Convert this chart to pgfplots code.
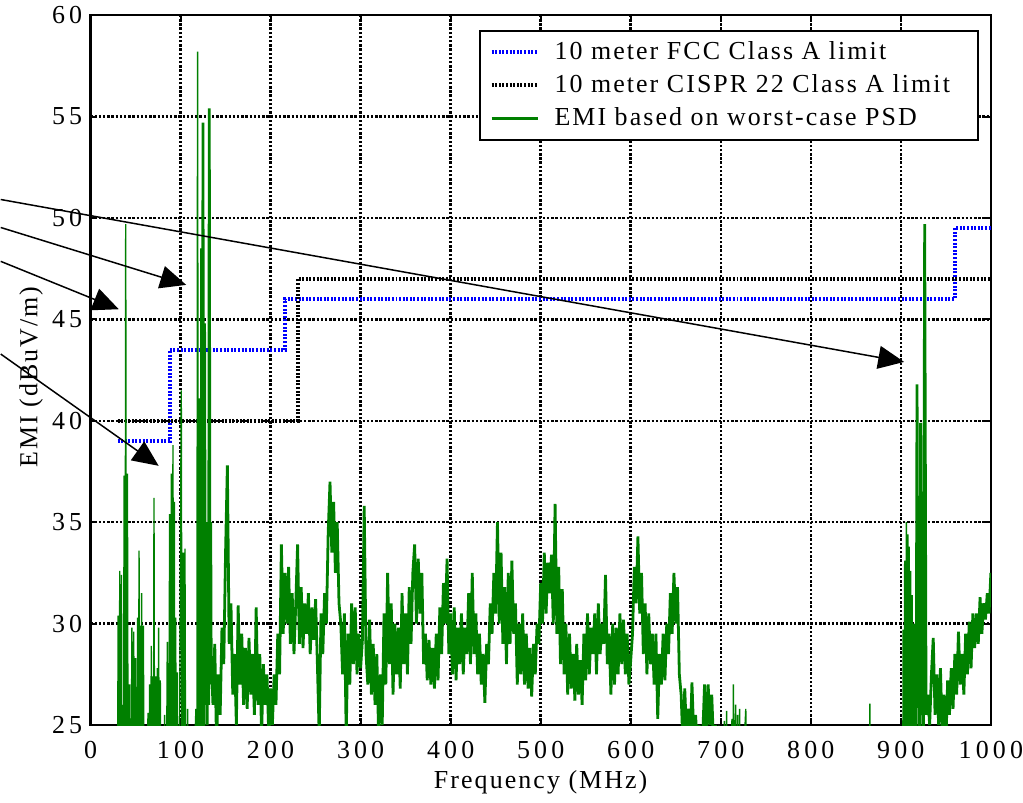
\documentclass[border=0pt]{standalone}
\usepackage{fontspec}
\setmainfont[LetterSpace=8]{Liberation Serif}
\newfontfamily\tickfont[LetterSpace=16]{Liberation Serif}
\usepackage{pgfplots}
\pgfplotsset{compat=1.18}
\usetikzlibrary{arrows.meta}
\definecolor{emigreen}{RGB}{0,128,0}
\definecolor{fccblue}{RGB}{0,0,255}
\begin{document}
\fontsize{13}{15.5}\selectfont
\begin{tikzpicture}
\begin{axis}[
  scale only axis, width=451.5pt, height=356pt,
  xmin=0, xmax=1000, ymin=25, ymax=60,
  xtick={0,100,...,1000}, ytick={25,30,...,60},
  grid=major,
  major grid style={black, line width=1.25pt, dash pattern=on 1.2pt off 0.9pt},
  axis line style={black, line width=1.3pt},
  tick style={black, line width=1pt},
  tick align=inside, major tick length=3pt,
  /pgf/number format/assume math mode=true,
  /pgf/number format/1000 sep={},
  tick label style={font=\tickfont},
  xticklabel style={anchor=base, yshift=-16.8pt, inner xsep=0pt},
  yticklabel style={inner ysep=3.2pt, inner xsep=4pt},
  xlabel={Frequency (MHz)}, ylabel={EMI (dBuV/m)},
  xlabel style={at={(axis description cs:0.5,-0.0889)}, anchor=base},
  ylabel style={at={(axis description cs:-0.059,0.49)}, anchor=base},
  clip mode=individual,
  legend cell align=left,
  legend image code/.code={\draw[#1] (0pt,0pt) -- (23pt,0pt);},
  legend style={at={(axis description cs:0.9867,0.9797)}, anchor=north east,
    draw=black, line width=1pt, fill=white, inner xsep=5pt, inner ysep=3.3pt,
    row sep=1.6pt, column sep=5.5pt, nodes={inner sep=2pt}},
]
\addplot[fccblue, line width=2pt, dash pattern=on 1pt off 0.8pt] coordinates {
 (30,39) (88,39) (88,43.5) (216,43.5) (216,46) (960,46) (960,49.5) (1000,49.5)};
\addlegendentry{10 meter FCC Class A limit}
\addplot[black, line width=2pt, dash pattern=on 1pt off 0.8pt] coordinates {
 (30,40) (230,40) (230,47) (1000,47)};
\addlegendentry{10 meter CISPR 22 Class A limit\hspace*{7pt}}
\addplot[emigreen, line width=0.7pt, forget plot] coordinates {
(30,15) (30.6,30.4) (31.5,15) (32.5,32.6) (33.4,15) (34.4,32.4) (35.1,15) (35.8,26) (36.5,15) (37.3,37.3) (38.2,15) (39.1,49.7) (40,15) (41,37.4) (42,15) (43.5,27) (44.5,15) (46,29.8) (47,15) (48,29.6) (49,15) (50.1,28.3) (51.2,15) (52.4,30.3) (53.1,15) (53.9,33.6) (54.6,15) (55.3,29.9) (56,15) (56.8,31.5) (57.7,15) (58.7,29.9) (60,15) (63.9,25.6) (64.8,15) (65.7,27) (66.6,15) (67.5,28.9) (68.5,15) (69.4,27.4) (70,15) (70.5,36.2) (71.4,15) (72.4,27.4) (73.3,15) (74.2,27.8) (75,15) (75.7,29.8) (76.6,15) (77.5,27.2) (79,15) (82.4,25.5) (83.5,15) (85.3,29.1) (86.5,15) (87.9,35.4) (88.8,15) (89.7,37.4) (90.6,15) (91.6,38.8) (92.3,15) (93.1,36) (93.8,15) (94.6,30.3) (95.5,15) (96.4,27.6) (98,15) (100.8,41.5) (102,15) (103.1,33.5) (104,15) (104.9,33.7) (106,15) (107.9,25.8) (109,15) (117.1,25.8) (118,15) (118.9,58.2) (120,15)
};
\addplot[emigreen, line width=1.4pt] coordinates {
(120,15) (121.2,41.1) (122.3,15) (123.4,48.5) (124.2,20) (124.9,54.7) (125.8,24) (126.7,44.8) (127.6,26) (128.6,35) (129.5,25) (130.5,30) (131.2,26) (131.9,55.4) (132.8,27) (133.5,35)
(134,28.5) (136,26) (138,29) (140,24) (142,27.5) (144,25.5) (146,29.8) (148,28) (150,33.5) (152,37.8) (154,29) (156,31) (158,26.5) (160,28.5) (162,25) (164,30.9) (166,27) (168,29.5) (170,26) (172,28.8) (174,25.8) (176,29.3) (178,26.5) (180,28.5) (182,25.5) (184,30.8) (186,26) (188,28.5) (190,24.5) (192,28) (194,26) (196,27.5) (198,24.5) (200,26.8)
(202,25) (204,27.5) (206,26) (208,29.5) (210,27.5) (212,33.9) (214,29.5) (216,32.5) (218,30) (220,32.8) (222,29) (224,31.5) (226,28.5) (228,31) (230,33.9) (232,29) (234,31.8) (236,28.8) (238,31) (240,29.5) (242,31.5) (244,28.5) (246,30.8) (248,29.2) (250,31.2) (252,28) (254,24.5) (256,30.5) (258,28.5) (260,31.5) (262,30) (264,34.5) (266,37) (268,33.5) (270,36) (272,32.5) (274,35) (276,31) (278,30) (280,27.5) (282,30.5) (284,24.5) (286,29.5) (288,27) (290,31) (292,28) (294,30.8) (296,27.5) (298,29.5) (300,27.8)
(302,29.2) (304,35.8) (306,28.5) (308,27) (310,30.2) (312,26.5) (314,29) (316,26) (318,28.5) (320,24.5) (322,27.5) (324,25) (326,30.5) (328,27) (330,32.5) (332,28) (334,31) (336,26.5) (338,30) (340,27.5) (342,29.8) (344,26.8) (346,31.5) (348,28) (350,30.5) (352,27.5) (354,31.8) (356,29) (358,32.5) (360,33.9) (362,30) (364,33.2) (366,30.5) (368,32.5) (370,28) (372,29.5) (374,27.2) (376,29.2) (378,27) (380,28.8) (382,26.8) (384,29.5) (386,27.2) (388,30.8) (390,28.5) (392,32) (394,30) (396,33.2) (398,28.5) (400,30.5)
(402,27.5) (404,30.8) (406,27.2) (408,29.8) (410,28) (412,30.5) (414,27.5) (416,29.8) (418,28.5) (420,31.5) (422,28) (424,32.5) (426,28.5) (428,30.5) (430,27.5) (432,29.5) (434,27) (436,28.5) (438,26.1) (440,29) (442,28) (444,31) (446,29.5) (448,32.5) (450,30.5) (452,35) (454,30) (456,33.5) (458,29) (460,31.8) (462,28) (464,32.5) (466,29) (468,33.1) (470,29.5) (472,31) (474,27) (476,30) (478,27.5) (480,30.5) (482,27) (484,29.5) (486,26.8) (488,28.8) (490,26.4) (492,29) (494,27.5) (496,30) (498,29) (500,32)
(502,30) (504,33.5) (506,30.5) (508,33) (510,31.5) (512,33.4) (514,30) (516,35.9) (518,29.5) (520,32.8) (522,28) (524,31.7) (526,27.5) (528,30) (530,26.5) (532,29.5) (534,26.8) (536,28.5) (538,26.2) (540,29) (542,26.5) (544,28.2) (546,26) (548,29.5) (550,27.2) (552,30.5) (554,27.5) (556,29.8) (558,28.5) (560,30.5) (562,27.5) (564,31) (566,28.5) (568,30) (570,29) (572,32.4) (574,28) (576,29.5) (578,26.5) (580,30) (582,27) (584,29.8) (586,27.5) (588,30.5) (590,28) (592,30.2) (594,27.5) (596,29.5) (598,27) (600,28.2)
(602,29.5) (604,32.8) (606,31) (608,34.3) (610,30.5) (612,32.5) (614,28.5) (616,31) (618,27.5) (620,30.5) (622,28) (624,29.5) (626,27) (628,29.5) (630,25.3) (632,28.5) (634,27) (636,29.5) (638,27.2) (640,30) (642,28.5) (644,31.5) (646,29.5) (648,32.5) (650,30) (652,31.8) (654,27.5) (656,26.5) (658,24) (660,26.8) (662,24.5) (664,25.8) (666,24) (668,27.1) (670,24.5) (672,25.5) (674,24) (676,25) (678,24) (680,24.5) (682,27) (684,24.5) (686,27) (688,25) (690,26.5) (692,24) (694,25) (696,24) (698,24.6) (700,24)
};
\addlegendentry{EMI based on worst-case PSD}
\addplot[emigreen, line width=0.7pt, forget plot] coordinates {
(700,24) (702,20) (704,25.2) (705,20) (706.5,25.7) (707.5,20) (712.5,25.3) (713.3,20) (714,27) (715,20) (716.5,26) (717.5,20) (718.8,25.5) (719.8,20) (721,25.8) (722,20) (727.8,25.8) (728.8,15) (865,15) (865.6,26.05) (866.3,15)
(902,15) (902.5,29.7) (903.3,15) (904.3,33.1) (905,15) (906.2,35) (907,15) (907.8,34.4) (908.5,15) (909.3,33.8) (910,15) (911,32.6) (911.7,15) (912.5,31.4) (913.3,20)
};
\addplot[emigreen, line width=1.4pt, forget plot] coordinates {
(913.3,20) (914,30) (915,26) (916,28.8) (917,24) (918,41.8) (919,26) (920,28) (921,24.5) (922,39.9) (923,25.5) (924,27) (925,24) (926.5,49.7) (928,25.5) (930,26.5) (932,25) (934,27.5) (936,29.3) (938,25.5) (940,27.5) (942,25) (944,27.8) (946,24.5) (948,26.5) (950,24) (952,27.2) (954,25.5) (956,27.8) (958,25.8) (960,28.5) (962,26.5) (964,29.6) (966,27) (968,28.5) (970,26.5) (972,29.5) (974,27.5) (976,30.1) (978,27.8) (980,30.5) (982,28.8) (984,30.5) (986,29) (988,31.3) (990,29.5) (992,31) (994,30.2) (996,31.5) (998,30.5) (1000,32.5)
};
\draw[line width=0.75pt, -{Triangle[length=13pt,width=11.5pt]}] (axis cs:-99.7,50.91) -- (axis cs:903.7,42.9);
\draw[line width=0.75pt, -{Triangle[length=13pt,width=11.5pt]}] (axis cs:-99.7,49.53) -- (axis cs:106.3,46.7);
\draw[line width=0.75pt, -{Triangle[length=13pt,width=11.5pt]}] (axis cs:-99.7,47.86) -- (axis cs:31.4,45.5);
\draw[line width=0.75pt, -{Triangle[length=13pt,width=11.5pt]}] (axis cs:-99.7,43.29) -- (axis cs:75.7,37.78);
\end{axis}
\end{tikzpicture}
\end{document}
